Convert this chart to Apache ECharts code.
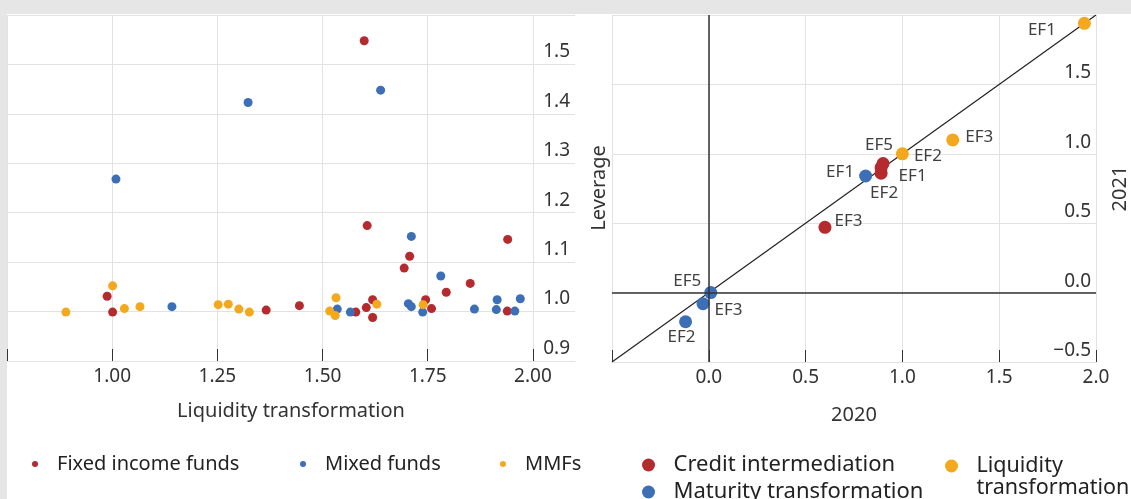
<!DOCTYPE html>
<html><head><meta charset="utf-8">
<script src="https://cdn.jsdelivr.net/npm/echarts@6/dist/echarts.min.js"></script>
<style>
html,body{margin:0;padding:0;background:#e6e6e6;width:1131px;height:499px;overflow:hidden}
#bg{position:absolute;left:7px;top:14px;right:0;bottom:0;background:#fff}
#c{position:absolute;left:0;top:0;width:1131px;height:499px}
</style></head><body><div id="bg"></div><div id="c"></div>
<script>
// ---- Left panel data: [liquidity transformation, leverage]
const fixedIncomeFunds = [[1.599,1.548],[1.606,1.174],[1.940,1.146],[1.707,1.112],[1.694,1.088],[1.851,1.057],[1.794,1.039],[0.988,1.031],[1.001,0.999],[1.366,1.003],[1.445,1.012],[1.579,0.999],[1.604,1.008],[1.619,1.024],[1.619,0.988],[1.745,1.024],[1.759,1.006],[1.939,1.001]];
const mixedFunds = [[1.638,1.448],[1.323,1.423],[1.009,1.268],[1.711,1.152],[1.781,1.072],[1.142,1.010],[1.535,1.005],[1.566,0.999],[1.704,1.016],[1.711,1.010],[1.738,0.999],[1.861,1.005],[1.915,1.024],[1.913,1.004],[1.957,1.001],[1.970,1.026]];
const mmfs = [[0.890,0.999],[1.001,1.052],[1.029,1.006],[1.066,1.010],[1.252,1.014],[1.276,1.015],[1.301,1.005],[1.326,0.999],[1.532,1.028],[1.517,1.001],[1.530,0.992],[1.629,1.015],[1.739,1.014]];
const leftXLabels = [1.00,1.25,1.50,1.75,2.00];
const leftYLabels = [0.9,1.0,1.1,1.2,1.3,1.4,1.5];

// ---- Right panel data: 2020 vs 2021
const creditNames = ['EF5','EF1','EF2','EF3'];
const credit2020 = [0.90,0.89,0.89,0.60];
const credit2021 = [0.93,0.90,0.86,0.47];
const maturityNames = ['EF1','EF5','EF3','EF2'];
const maturity2020 = [0.81,0.01,-0.03,-0.12];
const maturity2021 = [0.84,0.00,-0.08,-0.21];
const liquidityNames = ['EF1','EF2','EF3'];
const liquidity2020 = [1.94,1.00,1.26];
const liquidity2021 = [1.94,1.00,1.10];
const diagLine = [[-0.5,-0.5],[2,2]];
const rightTicks = [-0.5,0,0.5,1,1.5,2];
const rightLabels = [0,0.5,1,1.5,2];
const rightYLabels = [-0.5,0,0.5,1,1.5];

// ---- label placement (styling only)
const labelPlace = {
  'Credit intermediation': {EF5:['top',[-4,2]], EF1:['right',[6,8]], EF2:['bottom',[3,0]], EF3:['right',[-2,-6]]},
  'Maturity transformation': {EF1:['left',[0,-4]], EF5:['left',[2,-11]], EF3:['right',[0,6]], EF2:['bottom',[-4,-5]]},
  'Liquidity transformation': {EF1:['left',[-17,7]], EF2:['right',[0,2]], EF3:['right',[1,-3]]}
};

const FONT = 'Noto Sans';
const RED = '#b52a2f', BLUE = '#3d6fb6', ORANGE = '#f4a81d';
const TXT = '#333';

function pts(seriesName, names, xs, ys) {
  return names.map((n, i) => {
    const p = labelPlace[seriesName][n];
    return {value: [xs[i], ys[i]], name: n,
      label: {show: true, formatter: n, position: p[0], offset: p[1]}};
  });
}
function fmtNum(d) { return v => { const s = Math.abs(v).toFixed(d); return v < -1e-9 ? '\u2212' + s : s; }; }

const leg = (name, left, top, size, iconW, fs, color, extra) => Object.assign({
  data: [name], left, top, icon: 'circle', itemWidth: iconW, itemHeight: size, selectedMode: false,
  textStyle: {fontSize: fs, color: '#222', fontFamily: FONT}, itemStyle: {color}
}, extra || {});

const chart = echarts.init(document.getElementById('c'));
chart.setOption({
  animation: false,
  textStyle: {fontFamily: FONT},
  grid: [
    {left: 7, top: 15, width: 568, height: 346},
    {left: 612, top: 15, width: 486, height: 347}
  ],
  xAxis: [
    {gridIndex: 0, type: 'value', min: 0.75, max: 2.1, interval: 0.25,
      name: 'Liquidity transformation', nameLocation: 'middle', nameGap: 40,
      nameTextStyle: {fontSize: 20, color: TXT},
      axisLine: {show: true, lineStyle: {color: '#e2e2e2'}},
      axisTick: {show: true, inside: true, length: 12, lineStyle: {color: '#333'}, customValues: [0.75].concat(leftXLabels)},
      axisLabel: {fontSize: 19, color: TXT, margin: 6, customValues: leftXLabels, formatter: v => v.toFixed(2)},
      splitLine: {show: true, lineStyle: {color: '#e2e2e2'}}},
    {gridIndex: 1, type: 'value', min: -0.5, max: 2, interval: 0.5,
      name: '2020', nameLocation: 'middle', nameGap: 43,
      nameTextStyle: {fontSize: 20, color: TXT},
      axisLine: {show: true, onZero: false, lineStyle: {color: '#e2e2e2'}},
      axisTick: {show: true, inside: true, length: 12, lineStyle: {color: '#333'}, customValues: rightTicks},
      axisLabel: {fontSize: 19, color: TXT, margin: 6, customValues: rightLabels, formatter: fmtNum(1)},
      splitLine: {show: true, lineStyle: {color: '#e2e2e2'}}}
  ],
  yAxis: [
    {gridIndex: 0, type: 'value', min: 0.9, max: 1.6, interval: 0.1, position: 'right',
      name: 'Leverage', nameLocation: 'middle', nameGap: 14, nameRotate: 90,
      nameTextStyle: {fontSize: 20, color: TXT},
      axisLine: {show: false}, axisTick: {show: false},
      axisLabel: {inside: true, fontSize: 19, color: TXT, margin: 5, verticalAlign: 'bottom', padding: [0, 0, 3, 0], customValues: leftYLabels, formatter: fmtNum(1)},
      splitLine: {show: true, lineStyle: {color: '#e2e2e2'}}},
    {gridIndex: 1, type: 'value', min: -0.5, max: 2, interval: 0.5, position: 'right',
      name: '2021', nameLocation: 'middle', nameGap: 14, nameRotate: 90,
      nameTextStyle: {fontSize: 20, color: TXT},
      axisLine: {show: false, onZero: false}, axisTick: {show: false},
      axisLabel: {inside: true, fontSize: 19, color: TXT, margin: 5, verticalAlign: 'bottom', padding: [0, 0, 2, 0], customValues: rightYLabels, formatter: fmtNum(1)},
      splitLine: {show: true, lineStyle: {color: '#e2e2e2'}}}
  ],
  legend: [
    leg('Fixed income funds', 27, 449, 6, 34, 20, RED),
    leg('Mixed funds', 295, 449, 6, 34, 20, BLUE),
    leg('MMFs', 495, 449, 6, 34, 20, ORANGE),
    leg('Credit intermediation', 637, 449, 13, 40, 22, RED),
    leg('Maturity transformation', 637, 476, 13, 40, 22, BLUE),
    leg('Liquidity transformation', 940, 428, 13, 40, 22, ORANGE, {
      formatter: n => ' \nLiquidity\ntransformation',
      textStyle: {fontSize: 21.5, lineHeight: 22, color: '#222', fontFamily: FONT}})
  ],
  series: [
    {name: 'Fixed income funds', type: 'scatter', xAxisIndex: 0, yAxisIndex: 0, data: fixedIncomeFunds, symbolSize: 9, itemStyle: {color: RED, opacity: 1}},
    {name: 'Mixed funds', type: 'scatter', xAxisIndex: 0, yAxisIndex: 0, data: mixedFunds, symbolSize: 9, itemStyle: {color: BLUE, opacity: 1}},
    {name: 'MMFs', type: 'scatter', xAxisIndex: 0, yAxisIndex: 0, data: mmfs, symbolSize: 9, itemStyle: {color: ORANGE, opacity: 1}},
    {name: 'diag', type: 'line', xAxisIndex: 1, yAxisIndex: 1, data: diagLine, symbol: 'none', silent: true, z: 1,
      lineStyle: {color: '#222', width: 1.2},
      markLine: {silent: true, symbol: 'none', label: {show: false}, lineStyle: {color: '#333', width: 1.5, type: 'solid'},
        data: [{xAxis: 0}, {yAxis: 0}]}},
    {name: 'Credit intermediation', type: 'scatter', xAxisIndex: 1, yAxisIndex: 1, symbolSize: 13, z: 3,
      itemStyle: {color: RED, opacity: 1}, label: {fontSize: 17, color: '#404040'},
      data: pts('Credit intermediation', creditNames, credit2020, credit2021)},
    {name: 'Maturity transformation', type: 'scatter', xAxisIndex: 1, yAxisIndex: 1, symbolSize: 13, z: 3,
      itemStyle: {color: BLUE, opacity: 1}, label: {fontSize: 17, color: '#404040'},
      data: pts('Maturity transformation', maturityNames, maturity2020, maturity2021)},
    {name: 'Liquidity transformation', type: 'scatter', xAxisIndex: 1, yAxisIndex: 1, symbolSize: 13, z: 3,
      itemStyle: {color: ORANGE, opacity: 1}, label: {fontSize: 17, color: '#404040'},
      data: pts('Liquidity transformation', liquidityNames, liquidity2020, liquidity2021)}
  ]
});
</script></body></html>
